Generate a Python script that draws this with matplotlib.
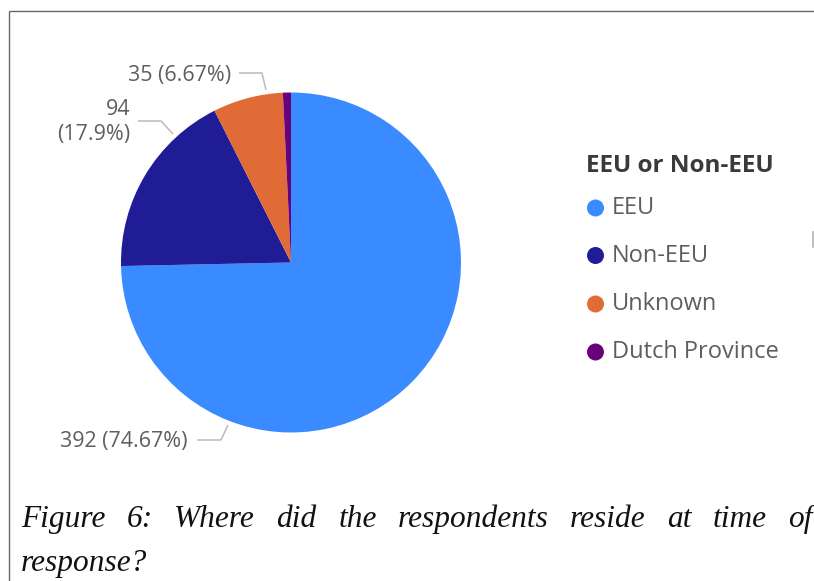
import matplotlib
matplotlib.use('Agg')
import matplotlib.pyplot as plt
from matplotlib.patches import Circle

# ---- data ----
categories = ['EEU', 'Non-EEU', 'Unknown', 'Dutch Province']
counts = [392, 94, 35, 4]
percent_labels = ['74.67%', '17.9%', '6.67%', '0.76%']
colors = ['#3A8BFF', '#1F1C96', '#E06B36', '#6B007B']
legend_title = 'EEU or Non-EEU'
caption_line1 = 'Figure 6: Where did the respondents reside at time of'
caption_line2 = 'response?'

W, H = 814, 581
fig = plt.figure(figsize=(W / 100, H / 100), dpi=100)
ax = fig.add_axes([0, 0, 1, 1])


def Y(y):
    return H - y


ax.pie(counts, colors=colors, startangle=90, counterclock=False,
       center=(291, Y(262.5)), radius=170, wedgeprops=dict(linewidth=0))
ax.set_xlim(0, W)
ax.set_ylim(0, H)
ax.set_aspect('equal')
ax.axis('off')

renderer = fig.canvas.get_renderer()


def fit(t, target_w):
    bb = t.get_window_extent(renderer)
    t.set_fontsize(t.get_fontsize() * target_w / bb.width)
    return t.get_fontsize()


SANS = ['Open Sans', 'DejaVu Sans']
LBL = '#605E5C'
LEAD = '#BDBBB9'

# ---- data labels (layout: right edge x, centre y, leader polyline) ----
label_layout = {
    0: dict(x=188, y=442, two=False, lead=[(197, 440), (221, 440), (228, 425)]),
    1: dict(x=130, y=122, two=True, lead=[(138, 121), (161, 121), (173, 134)]),
    2: dict(x=231, y=75, two=False, lead=[(239, 73), (262, 73), (266, 90)]),
}
fs_lbl = None
for i in [0, 1, 2]:
    L = label_layout[i]
    sep = '\n' if L['two'] else ' '
    s = f"{counts[i]}{sep}({percent_labels[i]})"
    t = ax.text(L['x'], Y(L['y']), s, ha='right', va='center', color=LBL,
                fontsize=15, family=SANS, multialignment='right', linespacing=1.3)
    if fs_lbl is None:
        fs_lbl = fit(t, 127)
    else:
        t.set_fontsize(fs_lbl)
    xs = [p[0] for p in L['lead']]
    ys = [Y(p[1]) for p in L['lead']]
    ax.plot(xs, ys, color=LEAD, lw=1.1, solid_capstyle='butt')

# ---- legend ----
tt = ax.text(586, Y(166), legend_title, ha='left', va='center', color='#3B3A39',
             fontsize=15, family=SANS, fontweight='bold')
fit(tt, 188)
leg_y = [208, 255.5, 304, 352]
fs_leg = None
for i, (c, col) in enumerate(zip(categories, colors)):
    ax.add_patch(Circle((595.5, Y(leg_y[i])), 8.5, color=col, lw=0))
    t = ax.text(611.5, Y(leg_y[i]), c, ha='left', va='center', color=LBL,
                fontsize=15, family=SANS)
    if c == 'Dutch Province':
        fs_leg = fit(t, 166.5)
for t in ax.texts[-4:]:
    t.set_fontsize(fs_leg)

# small mark at right edge
ax.plot([813.3, 813.3], [Y(232), Y(247)], color='#B5B5B5', lw=1.2)

# ---- frame ----
ax.plot([9.3, W], [Y(11), Y(11)], color='#666666', lw=1.0, solid_capstyle='butt')
ax.plot([9.3, 9.3], [Y(11), 0], color='#666666', lw=1.0, solid_capstyle='butt')

# ---- caption (justified) ----
CAP = dict(family=['Liberation Serif'], style='italic', color='#111111', va='baseline', ha='left')
t2 = ax.text(21, Y(571), caption_line2, fontsize=20, **CAP)
fs_cap = fit(t2, 126)
words = caption_line1.split()
wt = [ax.text(0, Y(526.7), w, fontsize=fs_cap, **CAP) for w in words]
widths = [t.get_window_extent(renderer).width for t in wt]
x0, x1 = 21, 813
gap = (x1 - x0 - sum(widths)) / (len(words) - 1)
x = x0
for t, w in zip(wt, widths):
    t.set_x(x)
    x += w + gap

fig.savefig('out.png', dpi=100, facecolor='white')
